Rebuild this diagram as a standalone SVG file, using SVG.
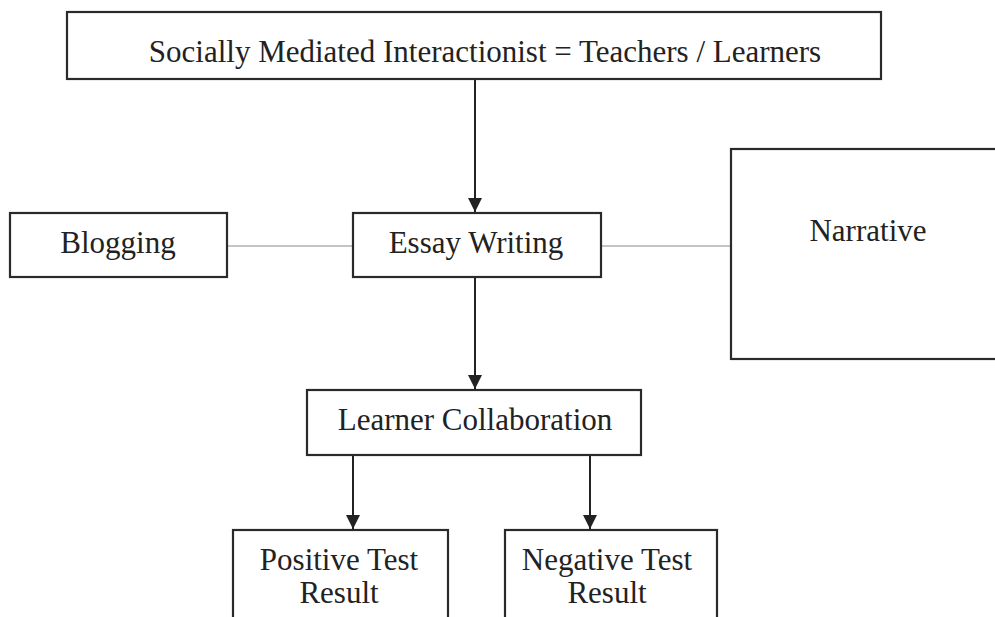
<svg xmlns="http://www.w3.org/2000/svg" width="995" height="617" viewBox="0 0 995 617">
<style>
.box{fill:#fff;stroke:#2a2a2a;stroke-width:2.2}
.t{font-family:"Liberation Serif","Times New Roman",serif;font-size:31px;fill:#222;text-anchor:middle}
.link{stroke:#8a8a8a;stroke-width:1.2;fill:none}
.arr{stroke:#222;stroke-width:2;fill:none;marker-end:url(#ah)}
</style>
<defs>
<marker id="ah" viewBox="0 0 12 12" refX="12" refY="6" markerWidth="15" markerHeight="14" markerUnits="userSpaceOnUse" orient="auto">
<path d="M0,0 L12,6 L0,12 z" fill="#222"/>
</marker>
</defs>
<rect width="995" height="617" fill="#fff"/>
<g id="connectors">
<line class="link" x1="227" y1="246" x2="353" y2="246"/>
<line class="link" x1="601" y1="246" x2="731" y2="246"/>
<line class="arr" x1="475" y1="80" x2="475" y2="212"/>
<line class="arr" x1="475" y1="278" x2="475" y2="389"/>
<line class="arr" x1="353" y1="456" x2="353" y2="529"/>
<line class="arr" x1="590" y1="456" x2="590" y2="529"/>
</g>
<g id="top">
<rect class="box" x="67" y="12" width="814" height="67"/>
<text class="t" x="485" y="62">Socially Mediated Interactionist = Teachers / Learners</text>
</g>
<g id="blogging">
<rect class="box" x="10" y="213" width="217" height="64"/>
<text class="t" x="118" y="253">Blogging</text>
</g>
<g id="essay">
<rect class="box" x="353" y="213" width="248" height="64"/>
<text class="t" x="476" y="253">Essay Writing</text>
</g>
<g id="narrative">
<rect class="box" x="731" y="149" width="280" height="210"/>
<text class="t" x="868" y="241">Narrative</text>
</g>
<g id="learner">
<rect class="box" x="307" y="390" width="334" height="65"/>
<text class="t" x="475" y="430">Learner Collaboration</text>
</g>
<g id="positive">
<rect class="box" x="233" y="530" width="215" height="100"/>
<text class="t" x="339" y="570">Positive Test</text>
<text class="t" x="339" y="603">Result</text>
</g>
<g id="negative">
<rect class="box" x="505" y="530" width="212" height="100"/>
<text class="t" x="607" y="570">Negative Test</text>
<text class="t" x="607" y="603">Result</text>
</g>
</svg>
